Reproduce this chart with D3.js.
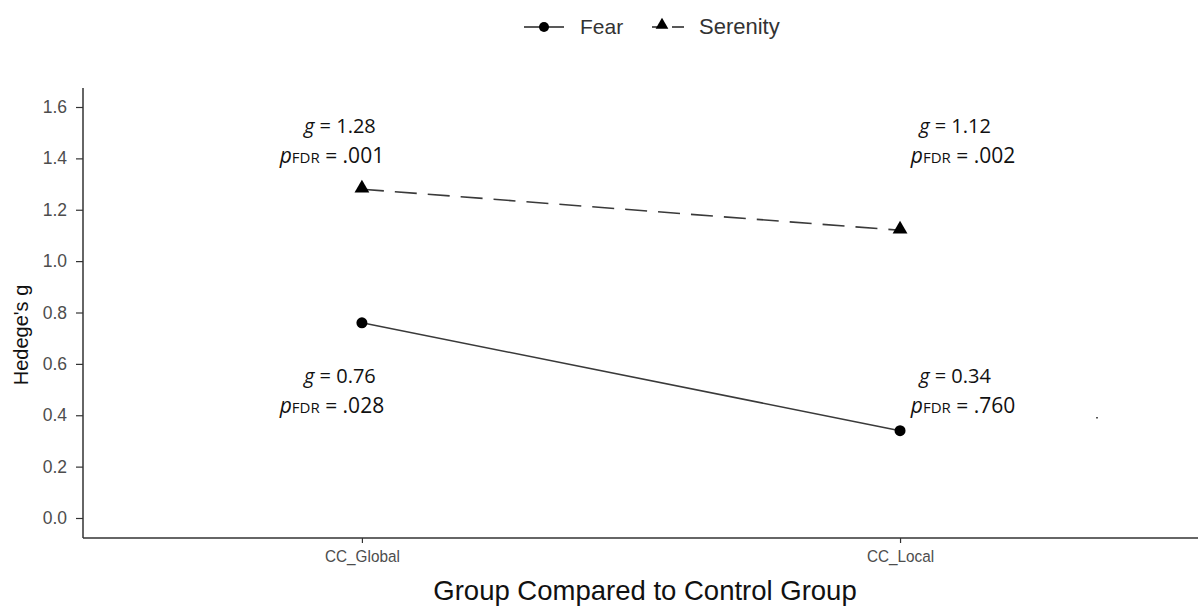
<!DOCTYPE html>
<html>
<head>
<meta charset="utf-8">
<script src="https://cdn.jsdelivr.net/npm/d3@7/dist/d3.min.js"></script>
<style>
  html, body { margin: 0; padding: 0; background: #fff; }
  svg { display: block; }
</style>
</head>
<body>
<svg id="chart" width="1198" height="610"></svg>
<script>
// Effect sizes of each group versus the control group
const groups = ["CC_Global", "CC_Local"];
const seriesNames = ["Fear", "Serenity"];
const fearValues = [0.76, 0.34];
const serenityValues = [1.28, 1.12];
const fearP = [".028", ".760"];
const serenityP = [".001", ".002"];
const yTicks = [0.0, 0.2, 0.4, 0.6, 0.8, 1.0, 1.2, 1.4, 1.6];

const svg = d3.select("#chart");
const panel = { left: 83, right: 1198, top: 88, bottom: 538 };

const x = d3.scalePoint()
  .domain(groups)
  .range([panel.left, panel.right])
  .padding(0.536)
  .align(0.4835);

const y = d3.scaleLinear()
  .domain([0, 1.6])
  .range([518, 107]);

const axisColor = "#333333";
const tickText = "#4d4d4d";
const sans = "'Liberation Sans', Arial, sans-serif";

// Y axis
const yAxis = svg.append("g")
  .attr("transform", `translate(${panel.left},0)`)
  .call(d3.axisLeft(y).tickValues(yTicks).tickFormat(d3.format(".1f")).tickSize(7).tickPadding(9).tickSizeOuter(0));
yAxis.attr("font-size", 17.5).attr("font-family", sans);
yAxis.select(".domain").remove();
yAxis.selectAll(".tick line").attr("stroke", axisColor).attr("stroke-width", 1.2);
yAxis.selectAll(".tick text").attr("fill", tickText);
svg.append("line")
  .attr("x1", panel.left).attr("x2", panel.left)
  .attr("y1", panel.top).attr("y2", panel.bottom)
  .attr("stroke", axisColor).attr("stroke-width", 1.5);

// X axis
const xAxis = svg.append("g")
  .attr("transform", `translate(0,${panel.bottom})`)
  .call(d3.axisBottom(x).tickSize(5).tickPadding(7).tickSizeOuter(0));
xAxis.attr("font-size", 17).attr("font-family", sans);
xAxis.select(".domain").remove();
xAxis.selectAll(".tick line").attr("stroke", axisColor).attr("stroke-width", 1.2);
xAxis.selectAll(".tick text")
  .attr("fill", tickText)
  .attr("transform", "scale(0.9,1)");
svg.append("line")
  .attr("x1", panel.left).attr("x2", panel.right)
  .attr("y1", panel.bottom).attr("y2", panel.bottom)
  .attr("stroke", axisColor).attr("stroke-width", 1.5);

// Axis titles
svg.append("text")
  .attr("x", 645)
  .attr("y", 600)
  .attr("text-anchor", "middle")
  .attr("font-family", sans)
  .attr("font-size", 27.5)
  .attr("fill", "#111")
  .text("Group Compared to Control Group");

svg.append("text")
  .attr("transform", `translate(28,${335}) rotate(-90)`)
  .attr("text-anchor", "middle")
  .attr("font-family", sans)
  .attr("font-size", 20)
  .attr("fill", "#111")
  .text("Hedege's g");

// Series
const lineGen = d3.line().x((d, i) => x(groups[i])).y(d => y(d));

svg.append("path")
  .datum(fearValues)
  .attr("d", lineGen)
  .attr("fill", "none")
  .attr("stroke", "#3a3a3a")
  .attr("stroke-width", 1.5);

svg.append("path")
  .datum(serenityValues)
  .attr("d", lineGen)
  .attr("fill", "none")
  .attr("stroke", "#3a3a3a")
  .attr("stroke-width", 1.6)
  .attr("stroke-dasharray", "22,11");

svg.selectAll("circle.fear")
  .data(fearValues)
  .join("circle")
  .attr("class", "fear")
  .attr("cx", (d, i) => x(groups[i]))
  .attr("cy", d => y(d))
  .attr("r", 5.5)
  .attr("fill", "#000");

const tri = d3.symbol().type(d3.symbolTriangle).size(95);
svg.selectAll("path.serenity")
  .data(serenityValues)
  .join("path")
  .attr("class", "serenity")
  .attr("d", tri)
  .attr("transform", (d, i) => `translate(${x(groups[i])},${y(d) - 1})`)
  .attr("fill", "#000");

// Annotations: effect size and FDR-corrected p value
const annFont = "'Open Sans', 'Noto Sans', sans-serif";
const annOffset = [-22, 55];
const pShift = [-8, 8];
function annotate(cx, dx, yTop, g, p) {
  const t1 = svg.append("text")
    .attr("x", cx).attr("y", yTop)
    .attr("text-anchor", "middle")
    .attr("font-family", annFont)
    .attr("font-size", 20)
    .attr("fill", "#111");
  t1.append("tspan").attr("font-style", "italic").text("g");
  t1.append("tspan").text(" = " + g.toFixed(2));

  const t2 = svg.append("text")
    .attr("x", cx + dx).attr("y", yTop + 30)
    .attr("text-anchor", "middle")
    .attr("font-family", annFont)
    .attr("font-size", 21)
    .attr("fill", "#111");
  t2.append("tspan").attr("font-style", "italic").text("p");
  t2.append("tspan").attr("font-size", 15).text("FDR");
  t2.append("tspan").text(" = " + p);
}
groups.forEach((grp, i) => {
  annotate(x(grp) + annOffset[i], pShift[i], 133, serenityValues[i], serenityP[i]);
  annotate(x(grp) + annOffset[i], pShift[i], 383, fearValues[i], fearP[i]);
});

// small speck at the right of the panel
svg.append("rect")
  .attr("x", 1096).attr("y", 417).attr("width", 2).attr("height", 1.5)
  .attr("fill", "#555");

// Legend
const legend = svg.append("g").attr("transform", "translate(0,27)");
legend.append("line").attr("x1", 524).attr("x2", 564).attr("y1", 0).attr("y2", 0)
  .attr("stroke", "#222").attr("stroke-width", 1.6);
legend.append("circle").attr("cx", 544).attr("cy", 0).attr("r", 5).attr("fill", "#000");
legend.append("text").attr("x", 580).attr("y", 7)
  .attr("font-family", sans).attr("font-size", 21).attr("fill", "#333")
  .text(seriesNames[0]);

legend.append("line").attr("x1", 652).attr("x2", 686).attr("y1", 0).attr("y2", 0)
  .attr("stroke", "#222").attr("stroke-width", 1.6).attr("stroke-dasharray", "12,8");
legend.append("path").attr("d", d3.symbol().type(d3.symbolTriangle).size(70))
  .attr("transform", "translate(662,-2)").attr("fill", "#000");
legend.append("text").attr("x", 699).attr("y", 7)
  .attr("font-family", sans).attr("font-size", 22).attr("fill", "#333")
  .text(seriesNames[1]);
</script>
</body>
</html>
